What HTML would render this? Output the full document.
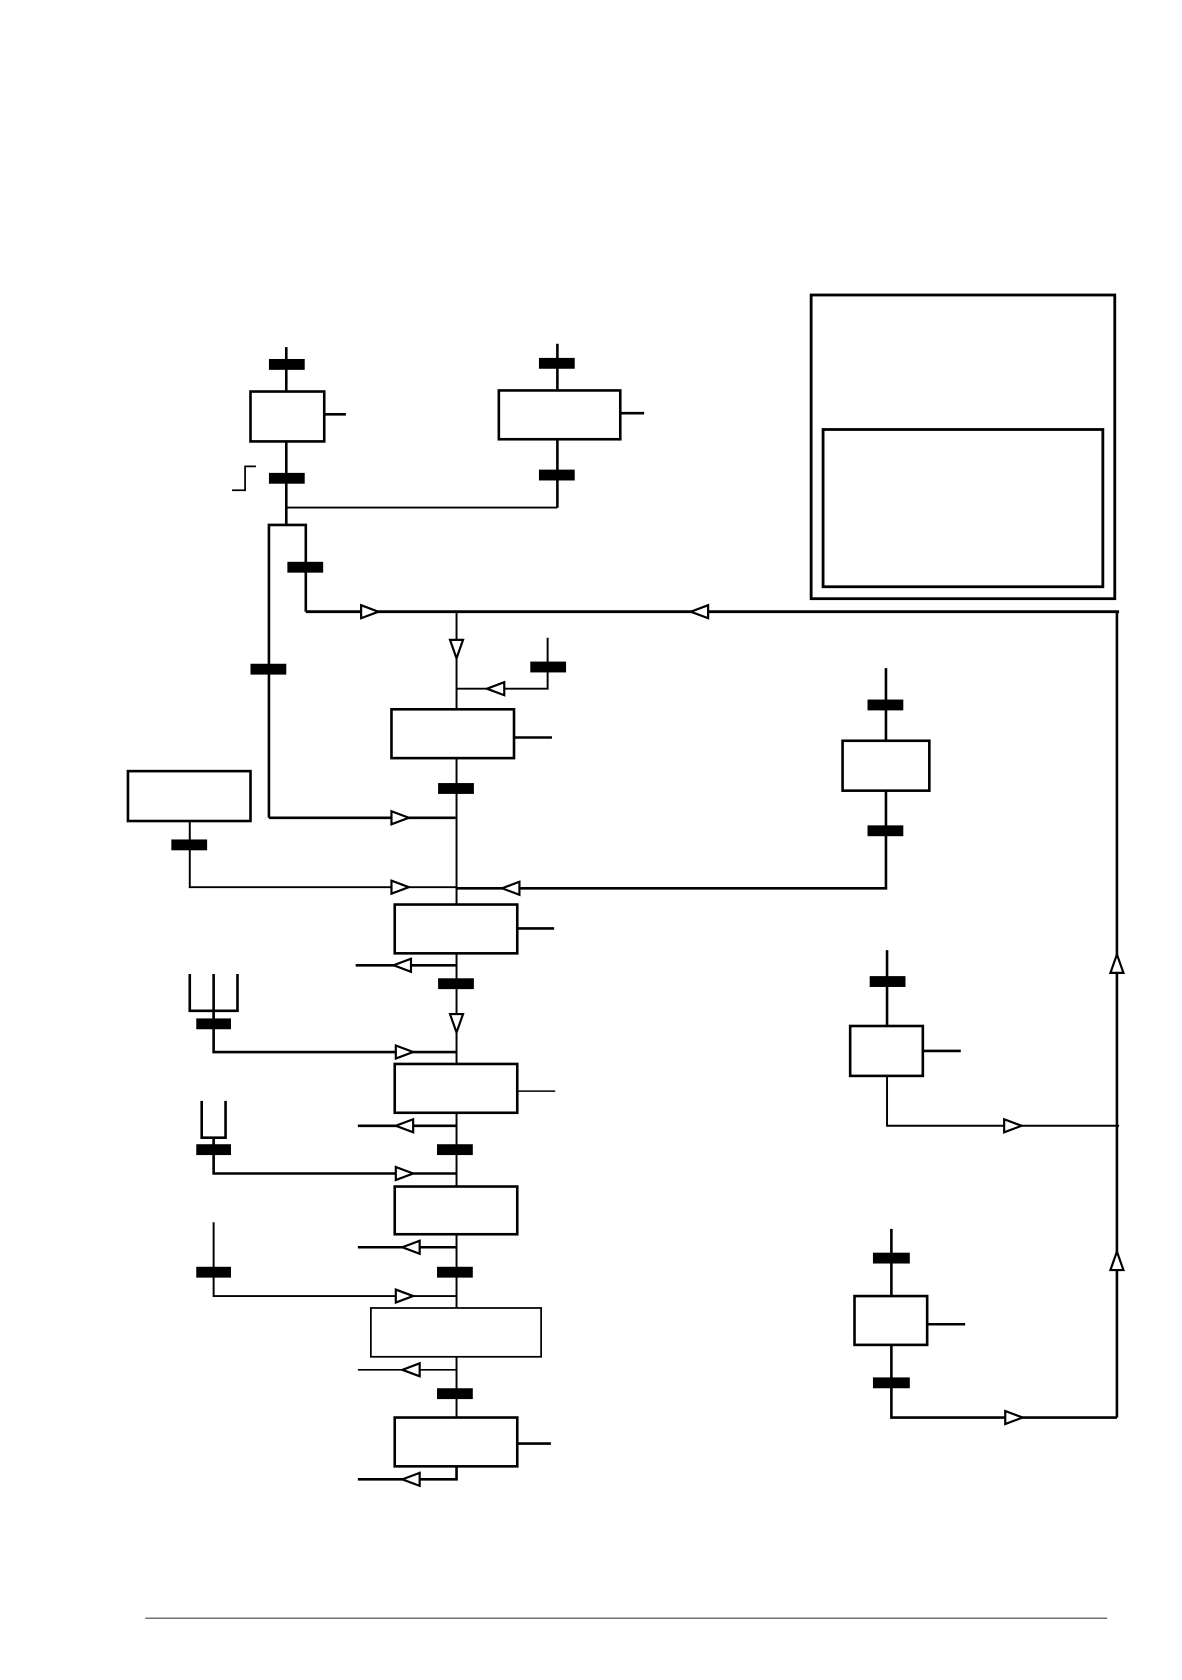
<!DOCTYPE html>
<html><head><meta charset="utf-8"><style>html,body{margin:0;padding:0;background:#fff}svg{display:block}</style></head>
<body>
<svg width="1182" height="1680" viewBox="0 0 1090 1549" preserveAspectRatio="none" xmlns="http://www.w3.org/2000/svg">
<g fill="none" stroke="#000" stroke-width="2.4">
<!-- legend boxes -->
<rect x="748" y="272" width="280" height="280" stroke-width="2.6"/>
<rect x="759" y="396" width="258" height="145" stroke-width="2.6"/>
<!-- step1 -->
<line x1="264" y1="320" x2="264" y2="484"/>
<rect x="231" y="361" width="68" height="46" fill="#fff"/>
<line x1="299" y1="382" x2="319" y2="382"/>
<polyline points="214,452 226,452 226,430 236,430" stroke-width="1.6"/>
<!-- step2 -->
<line x1="514" y1="317" x2="514" y2="468"/>
<rect x="460" y="360" width="112" height="45" fill="#fff"/>
<line x1="572" y1="381" x2="594" y2="381"/>
<line x1="264" y1="468" x2="514" y2="468" stroke-width="1.8"/>
<!-- fork -->
<polyline points="248,754 248,484 282,484 282,564"/>
<line x1="248" y1="754" x2="420" y2="754"/>
<!-- top horizontal and right vertical -->
<line x1="282" y1="564" x2="1032" y2="564" stroke-width="2.6"/>
<line x1="1030" y1="564" x2="1030" y2="1307"/>
<!-- main vertical -->
<line x1="421" y1="564" x2="421" y2="1364" stroke-width="1.8"/>
<polyline points="505,588 505,635 421,635" stroke-width="1.8"/>
<rect x="361" y="654" width="113" height="45" fill="#fff"/>
<line x1="474" y1="680" x2="509" y2="680"/>
<!-- left step -->
<rect x="118" y="711" width="113" height="46" fill="#fff"/>
<polyline points="175,757 175,818 421,818" stroke-width="1.8"/>
<!-- right step 1 -->
<polyline points="817,616 817,819 421,819"/>
<rect x="777" y="683" width="80" height="46" fill="#fff"/>
<!-- main steps -->
<rect x="364" y="834" width="113" height="45" fill="#fff"/>
<line x1="477" y1="856" x2="511" y2="856"/>
<line x1="328" y1="890" x2="421" y2="890"/>
<polyline points="175,898 175,932 219,932 219,898"/>
<polyline points="197,898 197,970 421,970"/>
<rect x="364" y="981" width="113" height="45" fill="#fff"/>
<line x1="477" y1="1006" x2="512" y2="1006" stroke-width="1.4"/>
<line x1="330" y1="1038" x2="421" y2="1038"/>
<polyline points="186,1015 186,1049 208,1049 208,1015"/>
<polyline points="197,1049 197,1082 421,1082"/>
<rect x="364" y="1094" width="113" height="44" fill="#fff"/>
<line x1="330" y1="1150" x2="421" y2="1150"/>
<polyline points="197,1127 197,1195 421,1195" stroke-width="1.8"/>
<rect x="342" y="1206" width="157" height="45" fill="#fff" stroke-width="1.6"/>
<line x1="330" y1="1263" x2="421" y2="1263" stroke-width="1.6"/>
<rect x="364" y="1307" width="113" height="45" fill="#fff"/>
<line x1="477" y1="1331" x2="508" y2="1331"/>
<polyline points="421,1352 421,1364 330,1364"/>
<!-- right step 3 -->
<line x1="818" y1="876" x2="818" y2="946"/>
<rect x="784" y="946" width="67" height="46" fill="#fff"/>
<line x1="851" y1="969" x2="886" y2="969"/>
<polyline points="818,992 818,1038 1032,1038" stroke-width="1.8"/>
<!-- right step 4 -->
<line x1="822" y1="1133" x2="822" y2="1195"/>
<rect x="788" y="1195" width="67" height="45" fill="#fff"/>
<line x1="855" y1="1221" x2="890" y2="1221"/>
<polyline points="822,1240 822,1307 1030,1307"/>
<line x1="134" y1="1492" x2="1021" y2="1492" stroke="#444" stroke-width="1"/>
</g>
<!-- bars -->
<g fill="#000">
<rect x="248" y="331" width="33" height="10"/>
<rect x="248" y="436" width="33" height="10"/>
<rect x="497" y="330" width="33" height="10"/>
<rect x="497" y="433" width="33" height="10"/>
<rect x="265" y="518" width="33" height="10"/>
<rect x="231" y="612" width="33" height="10"/>
<rect x="489" y="610" width="33" height="10"/>
<rect x="404" y="722" width="33" height="10"/>
<rect x="158" y="774" width="33" height="10"/>
<rect x="800" y="645" width="33" height="10"/>
<rect x="800" y="761" width="33" height="10"/>
<rect x="404" y="902" width="33" height="10"/>
<rect x="181" y="939" width="32" height="10"/>
<rect x="403" y="1055" width="33" height="10"/>
<rect x="181" y="1055" width="32" height="10"/>
<rect x="403" y="1168" width="33" height="10"/>
<rect x="181" y="1168" width="32" height="10"/>
<rect x="403" y="1280" width="33" height="10"/>
<rect x="802" y="900" width="33" height="10"/>
<rect x="805" y="1155" width="34" height="10"/>
<rect x="805" y="1270" width="34" height="10"/>
</g>
<!-- arrows -->
<g fill="#fff" stroke="#000" stroke-width="2">
<polygon points="333,558 349,564 333,570"/>
<polygon points="653,558 637,564 653,570"/>
<polygon points="415,590 421,607 427,590"/>
<polygon points="465,629 449,635 465,641"/>
<polygon points="361,748 377,754 361,760"/>
<polygon points="361,812 377,818 361,824"/>
<polygon points="479,813 463,819 479,825"/>
<polygon points="379,884 363,890 379,896"/>
<polygon points="415,935 421,952 427,935"/>
<polygon points="365,964 381,970 365,976"/>
<polygon points="381,1032 365,1038 381,1044"/>
<polygon points="365,1076 381,1082 365,1088"/>
<polygon points="387,1144 371,1150 387,1156"/>
<polygon points="365,1189 381,1195 365,1201"/>
<polygon points="387,1257 371,1263 387,1269"/>
<polygon points="387,1358 371,1364 387,1370"/>
<polygon points="926,1032 942,1038 926,1044"/>
<polygon points="927,1301 943,1307 927,1313"/>
<polygon points="1024,897 1030,880 1036,897"/>
<polygon points="1024,1171 1030,1154 1036,1171"/>
</g>
</svg>
</body></html>
